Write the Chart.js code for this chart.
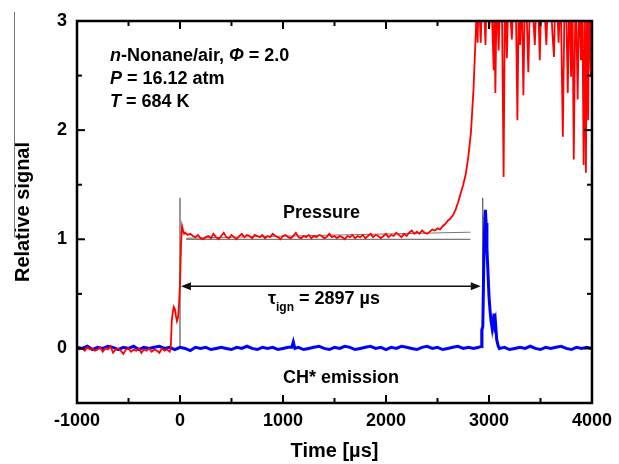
<!DOCTYPE html>
<html>
<head>
<meta charset="utf-8">
<script src="https://cdn.jsdelivr.net/npm/chart.js@4"></script>
<style>body{margin:0;background:#fff}</style>
</head>
<body>
<canvas id="myChart" width="619" height="464"></canvas>
<script>
// pressure trace (red), time in µs
const pressureTime = [
  -1000,-975,-950,-925,-900,-875,-850,-825,-800,-775,
  -750,-725,-700,-675,-650,-625,-600,-575,-550,-525,
  -500,-475,-450,-425,-400,-375,-350,-325,-300,-275,
  -250,-225,-200,-175,-150,-125,-100,
  -90,-80,-70,-60,-50,-40,-30,-20,-10,0,10,20,30,40,
  50,75,100,125,150,175,200,225,250,275,
  300,325,350,375,400,425,450,475,500,525,
  550,575,600,625,650,675,700,725,750,775,
  800,825,850,875,900,925,950,975,1000,1025,
  1050,1075,1100,1125,1150,1175,1200,1225,1250,1275,
  1300,1325,1350,1375,1400,1425,1450,1475,1500,1525,
  1550,1575,1600,1625,1650,1675,1700,1725,1750,1775,
  1800,1825,1850,1875,1900,1925,1950,1975,2000,2025,
  2050,2075,2100,2125,2150,2175,2200,2225,2250,2275,
  2300,2325,2350,2375,2400,2425,2450,2475,2500,2525,
  2550,2575,2600,2625,2650,2675,2700,2725,2750,2775,2800,2825,2850,2870,
  2880,2890,2900,2920,2935,2950,2966,2980,3005,3020,
  3046,3052,3062,3075,3094,3110,3125,3142,3155,3174,
  3190,3205,3222,3240,3260,3276,3290,3302,3318,3334,
  3350,3365,3382,3400,3420,3445,3465,3480,3493,3510,
  3535,3557,3575,3600,3615,3631,3645,3660,3676,3695,
  3717,3735,3750,3765,3780,3797,3810,3823,3840,3850,
  3861,3877,3893,3905,3919,3930,3941,3952,3963,3975,
  3989,3995,4000
];
const pressureSignal = [
  0.01,-0.01,0.00,-0.02,0.01,-0.01,0.00,-0.02,-0.01,0.01,
  -0.03,0.00,-0.01,0.02,-0.04,-0.01,0.00,-0.02,-0.05,-0.01,
  0.00,-0.03,-0.01,-0.02,0.00,-0.04,-0.01,-0.02,0.00,-0.03,
  -0.01,-0.02,-0.04,0.00,-0.02,-0.01,-0.03,
  0.00,0.25,0.33,0.38,0.36,0.30,0.25,0.28,0.40,0.58,0.95,1.12,1.08,1.05,
  1.06,1.04,1.05,1.03,1.02,1.04,1.01,1.00,1.02,1.03,
  1.01,1.05,1.02,1.00,1.03,1.06,1.02,1.01,1.04,1.02,
  1.00,1.03,1.05,1.02,1.04,1.03,1.01,1.04,1.03,1.02,
  1.04,1.01,1.03,1.02,1.05,1.03,1.02,1.00,1.03,1.04,
  1.02,1.01,1.03,1.06,1.02,1.01,1.03,1.02,1.04,1.01,
  1.03,1.02,1.04,1.03,1.01,1.02,1.05,1.02,1.03,1.01,
  1.03,1.02,1.00,1.03,1.02,1.04,1.01,1.03,1.02,1.04,
  1.01,1.03,1.05,1.02,1.04,1.03,1.01,1.03,1.05,1.02,
  1.04,1.03,1.06,1.04,1.02,1.05,1.03,1.06,1.08,1.05,
  1.07,1.05,1.08,1.06,1.05,1.07,1.09,1.08,1.10,1.09,
  1.12,1.14,1.17,1.19,1.22,1.27,1.34,1.42,1.50,1.60,1.76,1.98,2.38,2.85,
  3.10,2.80,3.30,2.80,3.30,3.20,2.78,3.30,2.95,3.30,
  2.55,3.20,2.34,3.30,2.73,3.30,3.20,1.57,3.30,2.66,
  3.30,3.10,2.83,3.30,3.20,2.09,3.30,2.78,3.30,2.32,
  3.30,3.10,2.53,3.30,3.20,2.78,3.30,3.10,2.64,3.30,
  3.20,2.78,3.30,3.20,2.90,2.67,3.30,3.20,2.80,3.30,
  1.94,3.30,3.10,2.34,3.30,2.49,3.30,1.73,3.30,2.90,
  2.28,3.30,2.64,3.30,1.68,3.10,1.61,3.30,2.09,3.30,
  2.49,3.00,2.38
];

// CH* emission trace (blue)
const emissionTime = [
  -1000,-950,-900,-850,-800,-750,-700,-650,-600,-550,
  -500,-450,-400,-350,-300,-250,-200,-150,-100,-50,
  0,50,100,150,200,250,300,350,400,450,
  500,550,600,650,700,750,800,850,900,950,
  1000,1050,1085,1100,1115,
  1150,1200,1250,1300,1350,1400,1450,1500,1550,1600,
  1650,1700,1750,1800,1850,1900,1950,2000,2050,2100,
  2150,2200,2250,2300,2350,2400,2450,2500,2550,2600,
  2650,2700,2750,2800,2850,2900,
  2925,2930,2940,2950,2960,2965,2972,2980,2990,3000,
  3010,3020,3030,3040,3048,3055,3062,3075,3090,
  3100,3150,3200,3250,3300,3350,3400,3450,3500,3550,
  3600,3650,3700,3750,3800,3850,3900,3950,4000
];
const emissionSignal = [
  0.01,0.00,0.02,-0.01,0.01,0.00,0.02,0.01,-0.01,0.01,
  0.00,0.02,-0.01,0.01,0.00,0.01,0.02,0.00,0.01,-0.01,
  0.01,0.00,-0.02,0.01,0.00,0.01,-0.01,0.00,0.01,0.00,
  -0.01,0.01,0.00,0.02,0.00,-0.01,0.01,0.00,0.01,-0.01,
  0.00,0.01,0.01,0.06,0.00,
  0.01,-0.01,0.00,0.01,0.02,0.00,-0.01,0.01,0.00,0.02,
  0.01,-0.01,0.00,0.01,0.02,0.00,0.01,-0.01,0.01,0.00,
  0.02,0.01,0.00,-0.01,0.01,0.02,0.00,0.01,-0.01,0.00,
  0.01,0.02,0.00,0.01,0.00,0.01,
  0.02,0.17,0.20,0.80,1.20,1.27,1.15,0.92,0.70,0.48,
  0.35,0.25,0.19,0.28,0.32,0.22,0.25,0.08,0.02,
  0.00,0.01,-0.01,0.00,0.01,0.00,0.02,0.00,-0.01,0.01,
  0.00,0.01,0.02,0.00,-0.01,0.01,0.00,0.01,0.00
];

// baseline fits (grey) and ignition-delay markers
const fitTime = [60, 2820];
const fitFlat = [1.0, 1.0];
const fitSlope = [1.01, 1.065];
const markerTime = [0, 2940];
const markerTop = 1.38;
const arrowLevel = 0.57;

const xTickValues = [-1000, 0, 1000, 2000, 3000, 4000];
const xTickLabels = ["-1000", "0", "1000", "2000", "3000", "4000"];
const yTickValues = [0, 1, 2, 3];
const yTickLabels = ["0", "1", "2", "3"];
const xMinor = [-500, 500, 1500, 2500, 3500];
const yMinor = [0.5, 1.5, 2.5];

if (pressureTime.length !== pressureSignal.length) throw new Error("pressure " + pressureTime.length + " vs " + pressureSignal.length);
if (emissionTime.length !== emissionSignal.length) throw new Error("emission " + emissionTime.length + " vs " + emissionSignal.length);

const zip = (xs, ys) => xs.map((x, i) => ({ x: x, y: ys[i] }));
const FONT = '"Liberation Sans", Arial, sans-serif';

function drawRuns(ctx, x, y, parts, size) {
  parts.forEach(p => {
    ctx.font = (p[1] ? "italic " : "") + "bold " + size + "px " + FONT;
    ctx.fillText(p[0], x, y);
    x += ctx.measureText(p[0]).width;
  });
  return x;
}

const decor = {
  id: "decor",
  afterDatasetsDraw(chart) {
    const ctx = chart.ctx;
    const a = chart.chartArea;
    const xs = chart.scales.x, ys = chart.scales.y;
    ctx.save();

    // arrow for ignition delay
    const ay = ys.getPixelForValue(arrowLevel);
    const x0 = xs.getPixelForValue(markerTime[0]);
    const x1 = xs.getPixelForValue(markerTime[1]);
    ctx.strokeStyle = "#111";
    ctx.fillStyle = "#111";
    ctx.lineWidth = 1.5;
    ctx.beginPath();
    ctx.moveTo(x0 + 8, ay);
    ctx.lineTo(x1 - 8, ay);
    ctx.stroke();
    ctx.beginPath();
    ctx.moveTo(x0 + 1, ay); ctx.lineTo(x0 + 11, ay - 4); ctx.lineTo(x0 + 11, ay + 4); ctx.closePath();
    ctx.fill();
    ctx.beginPath();
    ctx.moveTo(x1 - 2, ay); ctx.lineTo(x1 - 12, ay - 4); ctx.lineTo(x1 - 12, ay + 4); ctx.closePath();
    ctx.fill();

    // frame
    ctx.strokeStyle = "#000";
    ctx.lineWidth = 2.5;
    ctx.strokeRect(a.left, a.top, a.right - a.left, a.bottom - a.top);

    // inward ticks on all four sides
    ctx.lineWidth = 2;
    const tick = (x, y, dx, dy) => { ctx.beginPath(); ctx.moveTo(x, y); ctx.lineTo(x + dx, y + dy); ctx.stroke(); };
    xTickValues.forEach(v => { const p = xs.getPixelForValue(v); tick(p, a.bottom, 0, -8); tick(p, a.top, 0, 8); });
    xMinor.forEach(v => { const p = xs.getPixelForValue(v); tick(p, a.bottom, 0, -5); tick(p, a.top, 0, 5); });
    yTickValues.forEach(v => { const p = ys.getPixelForValue(v); tick(a.left, p, 8, 0); tick(a.right, p, -8, 0); });
    yMinor.forEach(v => { const p = ys.getPixelForValue(v); tick(a.left, p, 5, 0); tick(a.right, p, -5, 0); });

    // stray line left of the y title
    ctx.strokeStyle = "#777";
    ctx.lineWidth = 1;
    ctx.beginPath(); ctx.moveTo(14.5, 12); ctx.lineTo(14.5, 237); ctx.stroke();

    // annotations
    ctx.fillStyle = "#000";
    ctx.textBaseline = "alphabetic";
    ctx.textAlign = "left";
    drawRuns(ctx, 110, 61, [["n", true], ["-Nonane/air, "], ["\u03A6", true], [" = 2.0"]], 18);
    drawRuns(ctx, 110, 84, [["P", true], [" = 16.12 atm"]], 18);
    drawRuns(ctx, 110, 107, [["T", true], [" = 684 K"]], 18);
    drawRuns(ctx, 283, 218, [["Pressure"]], 18);
    drawRuns(ctx, 283, 383, [["CH* emission"]], 18);
    let tx = drawRuns(ctx, 268, 304, [["\u03C4"]], 18);
    tx = drawRuns(ctx, tx, 311, [["ign"]], 12);
    drawRuns(ctx, tx, 304, [[" = 2897 \u00B5s"]], 18);
    ctx.restore();
  }
};

const ctx = document.getElementById("myChart").getContext("2d");
const myChart = new Chart(ctx, {
  type: "line",
  data: {
    datasets: [
      { data: zip(pressureTime, pressureSignal), borderColor: "#ff0000", borderWidth: 1.8 },
      { data: zip(emissionTime, emissionSignal), borderColor: "#0000ff", borderWidth: 3 },
      { data: zip(fitTime, fitFlat), borderColor: "#555555", borderWidth: 1 },
      { data: zip(fitTime, fitSlope), borderColor: "#777777", borderWidth: 1 },
      { data: [{ x: markerTime[0], y: 0 }, { x: markerTime[0], y: markerTop }], borderColor: "#333333", borderWidth: 1 },
      { data: [{ x: markerTime[1], y: 0 }, { x: markerTime[1], y: markerTop }], borderColor: "#333333", borderWidth: 1 }
    ]
  },
  options: {
    responsive: false,
    animation: false,
    events: [],
    elements: { point: { radius: 0 }, line: { tension: 0, fill: false } },
    layout: { padding: { top: 21, right: 21, left: 0, bottom: 0 } },
    plugins: { legend: { display: false }, tooltip: { enabled: false } },
    scales: {
      x: {
        type: "linear",
        min: -1000,
        max: 4000,
        grid: { display: false, drawTicks: false },
        border: { display: false },
        afterFit: s => { s.height = 61; },
        afterBuildTicks: s => { s.ticks = xTickValues.map(v => ({ value: v })); },
        ticks: {
          padding: 7,
          color: "#000",
          font: { family: FONT, size: 18, weight: "bold" },
          callback: v => xTickLabels[xTickValues.indexOf(v)]
        },
        title: {
          display: true,
          text: "Time [\u00B5s]",
          color: "#000",
          font: { family: FONT, size: 20, weight: "bold" },
          padding: { top: 0, bottom: 1 }
        }
      },
      y: {
        min: -0.5,
        max: 3,
        grid: { display: false, drawTicks: false },
        border: { display: false },
        afterFit: s => { s.width = 77; },
        afterBuildTicks: s => { s.ticks = yTickValues.map(v => ({ value: v })); },
        ticks: {
          padding: 10,
          color: "#000",
          font: { family: FONT, size: 18, weight: "bold" },
          callback: v => yTickLabels[yTickValues.indexOf(v)]
        },
        title: {
          display: true,
          text: "Relative signal",
          color: "#000",
          font: { family: FONT, size: 20, weight: "bold" },
          padding: { top: 11, bottom: 0 }
        }
      }
    }
  },
  plugins: [decor]
});
</script>
</body>
</html>
